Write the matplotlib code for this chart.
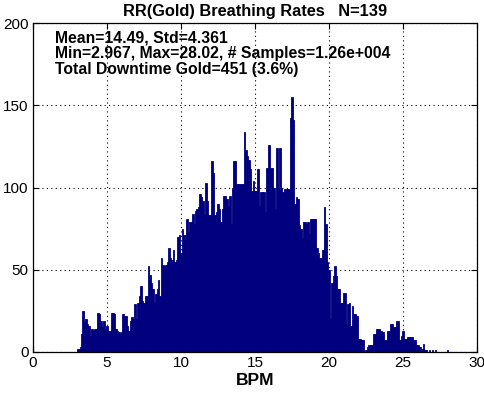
import matplotlib
matplotlib.use("Agg")
import matplotlib.pyplot as plt
import numpy as np

# histogram bins: centres 3.0 .. 28.0, width 0.1 BPM
bin_start = 3.0
bin_width = 0.1
counts = [
    2, 2, 3, 11, 25, 18, 20, 17, 16, 10,            # 3.x
    14, 13, 14, 14, 24, 23, 19, 15, 19, 14,         # 4.x
    16, 13, 13, 24, 24, 23, 14, 13, 12, 11,         # 5.x
    12, 23, 22, 22, 16, 13, 19, 21, 20, 29,         # 6.x
    20, 30, 34, 40, 31, 30, 34, 34, 52, 47,         # 7.x
    42, 38, 30, 35, 38, 44, 34, 57, 53, 52,         # 8.x
    53, 55, 63, 57, 56, 62, 55, 56, 70, 71,         # 9.x
    60, 75, 71, 71, 81, 73, 79, 79, 84, 78,         # 10.x
    86, 87, 88, 96, 94, 92, 83, 103, 92, 83,        # 11.x
    83, 116, 109, 83, 85, 90, 87, 79, 87, 95,       # 12.x
    95, 93, 89, 95, 78, 100, 116, 116, 102, 102,    # 13.x
    102, 102, 102, 134, 123, 119, 117, 111, 98, 104,  # 14.x
    98, 98, 111, 89, 97, 97, 97, 85, 112, 126,      # 15.x
    126, 112, 112, 100, 87, 124, 100, 124, 100, 97,  # 16.x
    99, 99, 99, 99, 142, 155, 141, 90, 94, 93,      # 17.x
    77, 75, 69, 79, 79, 78, 79, 72, 81, 81,         # 18.x
    81, 81, 63, 60, 57, 57, 62, 88, 78, 55,         # 19.x
    50, 20, 42, 46, 52, 46, 38, 38, 30, 30,         # 20.x
    36, 36, 17, 29, 30, 16, 28, 23, 23, 22,         # 21.x
    8, 8, 7, 7, 0, 1, 3, 4, 4, 4,                   # 22.x
    11, 11, 14, 14, 14, 13, 12, 12, 7, 7,           # 23.x
    13, 13, 17, 17, 15, 15, 19, 19, 7, 10,          # 24.x
    13, 8, 8, 9, 9, 9, 9, 7, 7, 4,                  # 25.x
    4, 3, 3, 2, 5, 1, 1, 0, 1, 0,                   # 26.x
    1, 0, 1, 0, 0, 0, 0, 0, 0, 0,                   # 27.x
    1,                                              # 28.0
]
centres = bin_start + bin_width * np.arange(len(counts))

title = "RR(Gold) Breathing Rates   N=139"
stats_lines = [
    "Mean=14.49, Std=4.361",
    "Min=2.967, Max=28.02, # Samples=1.26e+004",
    "Total Downtime Gold=451 (3.6%)",
]

plt.rcParams["font.family"] = ["Liberation Sans", "DejaVu Sans"]

fig = plt.figure(figsize=(4.84, 3.94), dpi=100)
ax = fig.add_axes([0.068, 0.1066, 0.9175, 0.835])

ax.bar(centres, counts, width=bin_width, color="#00007f",
       edgecolor="#00007f", linewidth=0.6, zorder=2)

ax.set_xlim(0, 30)
ax.set_ylim(0, 200)
ax.set_xticks(np.arange(0, 31, 5))
ax.set_yticks(np.arange(0, 201, 50))
ax.grid(True, linestyle=(0, (1, 3)), color="black", linewidth=0.8, zorder=1)
ax.set_axisbelow(True)
ax.tick_params(direction="in", labelsize=11, length=4, top=True, right=True,
               pad=3)
for sp in ax.spines.values():
    sp.set_linewidth(0.9)

ax.set_title(title, fontsize=11.8, fontweight="bold", pad=5)
ax.set_xlabel("BPM", fontsize=12.5, fontweight="bold", labelpad=2)

for i, line in enumerate(stats_lines):
    ax.text(0.05, 0.978 - i * 0.0486, line, transform=ax.transAxes,
            fontsize=11.3, fontweight="bold", va="top", ha="left")

fig.savefig("out.png", dpi=100)
